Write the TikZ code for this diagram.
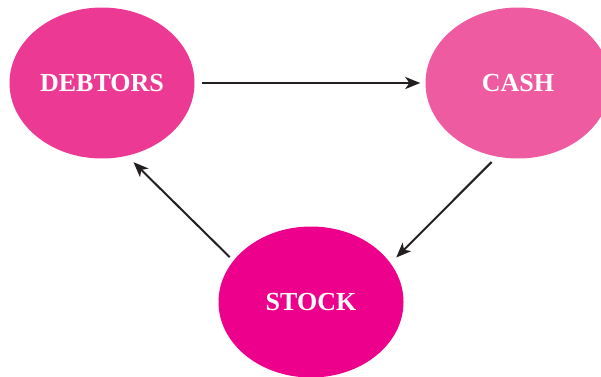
\documentclass[tikz,border=0pt]{standalone}
\usepackage{fontspec}
\setmainfont{Liberation Serif}
\usepackage{tikz}
\definecolor{pinkdeb}{HTML}{EC3A94}
\definecolor{pinkcash}{HTML}{EF5BA1}
\definecolor{pinkstock}{HTML}{EC008C}
\definecolor{arrowgray}{HTML}{231F20}
\usetikzlibrary{arrows.meta,shapes.geometric}
\tikzstyle{bolha}=[ellipse, fill=pinkdeb, draw=none, minimum width=185pt, minimum height=151pt, inner sep=0pt, text=white, font=\fontsize{26}{26}\selectfont\bfseries]
\tikzstyle{seta}=[draw=arrowgray, line width=2pt, -{Stealth[length=15pt,width=12pt,inset=4pt]}]

\begin{document}
\begin{tikzpicture}[x=1pt, y=1pt]
	\useasboundingbox (0,0) rectangle (601,376);
	\node[bolha] (debtors) at (102,293){DEBTORS};
	\node[bolha, fill=pinkcash] (cash) at (518,293){CASH};
	\node[bolha, fill=pinkstock] (stock) at (311,74){STOCK};
	\path[seta, shorten <=7pt, shorten >=5pt] (debtors.east) -- (cash.west);
	\path[seta, shorten <=7.5pt, shorten >=8pt] (cash.254) -- (stock.26);
	\path[seta, shorten <=5pt, shorten >=9pt] (stock.152) -- (debtors.289);
\end{tikzpicture}
\end{document}
